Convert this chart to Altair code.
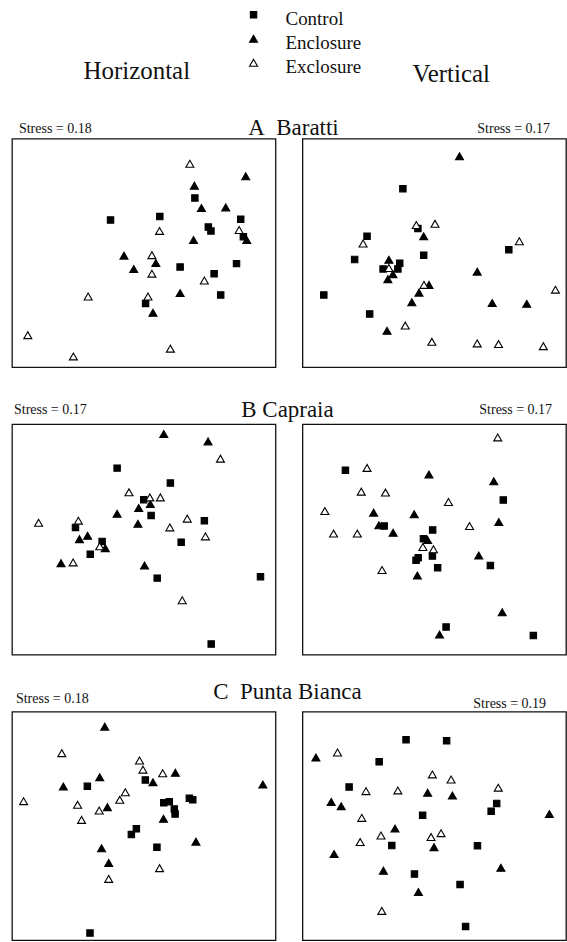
import altair as alt
import pandas as pd

GROUPS = ["Control", "Enclosure", "Exclosure"]
ORIENT = ["Horizontal", "Vertical"]
SITES = ["A\u2002Baratti", "B Capraia", "C\u2002Punta Bianca"]
STRESS_H = ["Stress = 0.18", "Stress = 0.17", "Stress = 0.18"]
STRESS_V = ["Stress = 0.17", "Stress = 0.17", "Stress = 0.19"]

# ---- A Baratti, horizontal ----
A_H_CONTROL = [(37.4, 64.4), (56.1, 65.9), (69.4, 74.0), (74.5, 61.3), (75.5, 59.6), (86.8, 64.7),
               (87.8, 57.1), (63.8, 43.8), (85.2, 45.3), (76.7, 40.9), (79.2, 31.6), (50.7, 27.9)]
A_H_ENCLOSURE = [(88.7, 83.5), (69.2, 79.4), (71.9, 69.6), (81.1, 69.9), (68.9, 55.6), (42.5, 48.8),
                 (54.6, 45.6), (46.2, 42.9), (63.8, 32.4), (53.5, 23.8), (89.1, 55.6)]
A_H_EXCLOSURE = [(67.5, 89.0), (56.0, 59.6), (53.1, 49.0), (53.1, 40.9), (73.0, 37.9), (86.2, 60.0),
                 (28.9, 30.9), (51.6, 30.9), (6.0, 14.0), (23.3, 4.7), (60.1, 8.1)]
# ---- A Baratti, vertical ----
A_V_CONTROL = [(38.1, 78.1), (24.5, 57.3), (19.8, 47.1), (8.1, 31.6), (25.5, 23.3), (43.8, 60.7),
               (46.0, 49.0), (30.6, 43.0), (36.9, 45.5), (36.2, 43.0), (78.3, 51.4)]
A_V_ENCLOSURE = [(59.6, 92.3), (46.0, 57.3), (32.8, 47.0), (34.3, 40.7), (32.4, 38.5), (48.0, 36.0),
                 (44.2, 32.6), (41.5, 28.4), (66.3, 41.8), (72.0, 28.1), (85.1, 27.7), (32.1, 15.9)]
A_V_EXCLOSURE = [(43.2, 62.2), (50.3, 62.7), (23.0, 54.1), (32.8, 43.4), (46.1, 36.0), (82.3, 55.1),
                 (96.0, 33.9), (39.0, 18.2), (49.1, 11.1), (66.3, 10.4), (74.4, 10.1), (91.4, 9.2)]
# ---- B Capraia, horizontal ----
B_H_CONTROL = [(39.9, 80.9), (60.1, 74.4), (50.0, 67.2), (52.8, 60.4), (24.1, 55.2), (34.2, 49.1),
               (29.7, 43.6), (73.0, 58.1), (64.2, 48.8), (55.1, 33.2), (94.3, 33.8), (75.6, 4.6)]
B_H_ENCLOSURE = [(57.6, 95.7), (74.4, 92.5), (39.9, 61.1), (48.1, 63.6), (52.5, 65.3), (47.8, 56.8),
                 (28.7, 51.6), (25.6, 50.1), (35.4, 46.2), (18.6, 39.7), (50.3, 38.7)]
B_H_EXCLOSURE = [(79.1, 85.0), (44.4, 70.4), (52.3, 68.2), (56.3, 68.2), (10.1, 57.2), (25.2, 58.1),
                 (59.9, 55.2), (66.5, 59.0), (73.4, 51.3), (33.3, 47.0), (23.2, 40.0), (64.6, 23.6)]
# ---- B Capraia, vertical ----
B_V_CONTROL = [(16.3, 80.0), (76.2, 67.1), (31.0, 55.8), (49.4, 54.1), (45.9, 50.3), (49.3, 42.8),
               (43.9, 42.0), (43.1, 40.9), (51.3, 37.7), (71.3, 38.7), (54.5, 12.0), (87.6, 8.3)]
B_V_ENCLOSURE = [(48.0, 78.1), (72.6, 75.2), (27.0, 61.6), (42.4, 60.9), (29.0, 56.1), (34.4, 52.9),
                 (74.5, 57.5), (47.5, 49.7), (66.9, 43.0), (43.6, 34.3), (75.8, 18.4), (52.0, 8.7)]
B_V_EXCLOSURE = [(74.1, 94.2), (24.5, 81.0), (22.3, 70.7), (31.5, 70.3), (8.5, 62.3), (55.4, 66.2),
                 (11.8, 52.5), (20.8, 52.5), (63.4, 55.8), (45.7, 46.7), (49.7, 45.7), (30.2, 36.7)]
# ---- C Punta Bianca, horizontal ----
C_H_CONTROL = [(28.6, 67.3), (50.6, 70.1), (57.6, 60.1), (59.7, 60.6), (61.6, 57.4), (61.9, 55.2),
               (67.3, 62.1), (68.6, 61.4), (47.2, 48.7), (45.3, 46.2), (55.0, 40.7), (29.6, 3.1)]
C_H_ENCLOSURE = [(35.2, 93.4), (33.3, 71.3), (19.5, 67.2), (53.5, 69.1), (62.0, 73.2), (36.2, 58.2),
                 (57.5, 53.1), (95.2, 68.1), (69.8, 43.1), (34.0, 40.2), (36.7, 33.8)]
C_H_EXCLOSURE = [(18.9, 81.8), (48.4, 78.6), (49.7, 74.6), (57.2, 73.0), (4.4, 60.8), (24.9, 59.2),
                 (26.4, 52.6), (33.1, 56.7), (40.9, 61.4), (43.0, 64.7), (56.0, 31.5), (36.7, 26.8)]
# ---- C Punta Bianca, vertical ----
C_V_CONTROL = [(39.3, 87.7), (54.7, 87.2), (29.1, 78.0), (17.7, 67.0), (45.6, 54.6), (73.7, 59.8),
               (71.6, 56.4), (33.9, 41.4), (66.4, 41.3), (42.5, 28.9), (59.8, 24.4), (61.9, 6.0)]
C_V_ENCLOSURE = [(5.1, 79.9), (10.9, 60.5), (14.7, 58.6), (47.5, 64.5), (56.9, 63.3), (35.1, 48.8),
                 (49.9, 40.7), (93.7, 55.2), (12.0, 37.7), (30.7, 30.4), (75.3, 31.7), (44.0, 21.1)]
C_V_EXCLOSURE = [(13.3, 82.1), (49.3, 72.5), (56.4, 70.3), (24.1, 65.2), (36.2, 65.5), (74.3, 66.7),
                 (22.5, 53.5), (29.8, 45.8), (21.9, 42.9), (48.8, 45.1), (52.6, 46.8), (30.1, 12.8)]

FONT = "Liberation Serif"
PANEL_W = 264
SQUARE_PATH = "M-0.8,-0.8H0.8V0.8H-0.8Z"

shape_scale = alt.Scale(domain=GROUPS, range=[SQUARE_PATH, "triangle-up", "triangle-up"])
fill_scale = alt.Scale(domain=GROUPS, range=["#000000", "#000000", "#ffffff"])


def panel_df(control, enclosure, exclosure):
    rows = []
    for g, pts in zip(GROUPS, [control, enclosure, exclosure]):
        for x, y in pts:
            rows.append({"group": g, "x": x, "y": y})
    return pd.DataFrame(rows)


def text_layer(label, x, y, size, align):
    return alt.Chart(pd.DataFrame({"t": [label]})).mark_text(
        font=FONT, fontSize=size, align=align, baseline="middle", color="#111111"
    ).encode(x=alt.value(x), y=alt.value(y), text="t:N")


def panel(df, height, stress, sx, sy, salign, title=None, tx=0, ty=0):
    pts = alt.Chart(df).mark_point(
        filled=True, stroke="#000000", strokeWidth=1.1, opacity=1, size=64
    ).encode(
        x=alt.X("x:Q", scale=alt.Scale(domain=[0, 100], nice=False, zero=False), axis=None),
        y=alt.Y("y:Q", scale=alt.Scale(domain=[0, 100], nice=False, zero=False), axis=None),
        shape=alt.Shape("group:N", scale=shape_scale, legend=None),
        fill=alt.Fill("group:N", scale=fill_scale, legend=None),
    )
    layers = [pts, text_layer(stress, sx, sy, 14, salign)]
    if title is not None:
        layers.append(text_layer(title, tx, ty, 23, "center"))
    return alt.layer(*layers).properties(width=PANEL_W, height=height)


# header: orientation labels and legend
leg_df = pd.DataFrame({"group": GROUPS})
leg_y = alt.Y("group:N", scale=alt.Scale(type="point", domain=GROUPS, range=[14, 62], padding=0), axis=None)
leg_pts = alt.Chart(leg_df).mark_point(
    filled=True, stroke="#000000", strokeWidth=1.1, opacity=1, size=64
).encode(
    x=alt.value(242), y=leg_y,
    shape=alt.Shape("group:N", scale=shape_scale, legend=None),
    fill=alt.Fill("group:N", scale=fill_scale, legend=None),
)
leg_txt = alt.Chart(leg_df).mark_text(
    font=FONT, fontSize=19, align="left", baseline="middle", dy=4, color="#111111"
).encode(x=alt.value(274), y=leg_y, text="group:N")
hidden = alt.ViewBackground(strokeOpacity=0)
header_left = alt.layer(
    leg_pts, leg_txt, text_layer(ORIENT[0], 125, 70, 25, "center"),
).properties(width=PANEL_W, height=81, view=hidden)
header_right = text_layer(ORIENT[1], 149, 73, 25, "center").properties(
    width=PANEL_W, height=81, view=hidden)

cells = [
    header_left, header_right,
    panel(panel_df(A_H_CONTROL, A_H_ENCLOSURE, A_H_EXCLOSURE), 229, STRESS_H[0], 7, -10, "left",
          SITES[0], 282, -11),
    panel(panel_df(A_V_CONTROL, A_V_ENCLOSURE, A_V_EXCLOSURE), 229, STRESS_V[0], 248, -10, "right"),
    panel(panel_df(B_H_CONTROL, B_H_ENCLOSURE, B_H_EXCLOSURE), 231, STRESS_H[1], 2, -14, "left",
          SITES[1], 276, -14),
    panel(panel_df(B_V_CONTROL, B_V_ENCLOSURE, B_V_EXCLOSURE), 231, STRESS_V[1], 250, -14, "right"),
    panel(panel_df(C_H_CONTROL, C_H_ENCLOSURE, C_H_EXCLOSURE), 229, STRESS_H[2], 4, -13, "left",
          SITES[2], 276, -20),
    panel(panel_df(C_V_CONTROL, C_V_ENCLOSURE, C_V_EXCLOSURE), 229, STRESS_V[2], 244, -8, "right"),
]

chart = alt.concat(
    *cells, columns=2, spacing=alt.RowColnumber(row=57, column=27), bounds="flush"
).properties(
    padding={"left": 11, "top": 0, "right": 0, "bottom": 0},
    background="white",
).configure_view(stroke="#111111", strokeWidth=1.3)

chart.save("out.html", embed_options={"renderer": "svg", "actions": False})
